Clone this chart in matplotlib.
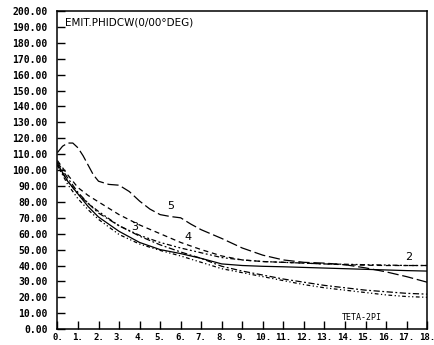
import matplotlib
matplotlib.use("Agg")
import matplotlib.pyplot as plt

# ---- data ----
x5 = [0, 0.25, 0.5, 0.75, 1, 1.25, 1.5, 1.75, 2, 2.5, 3, 3.5, 4, 4.5, 5, 5.5, 6, 6.5, 7, 8, 9, 10, 11, 12, 13, 14, 15, 16, 17, 18]
y5 = [111, 115, 117, 117, 114, 109, 103, 97, 93, 91, 90.5, 86.5, 80.5, 75.5, 72, 70.8, 70, 66, 62.5, 57, 51, 46.5, 43.5, 42, 41.5, 40.5, 38.5, 36, 33, 29.5]

xs = [0, 0.5, 1, 1.5, 2, 3, 4, 5, 6, 7, 8, 9, 10, 11, 12, 13, 14, 15, 16, 17, 18]
y4 = [106, 97, 89, 84, 80, 72, 65.5, 60, 54.5, 50, 46, 43.5, 42.5, 42, 41.5, 41, 40.5, 40.2, 40, 40, 40]
y2 = [103, 93, 85, 79, 74, 65, 59, 54.5, 51, 48, 45, 43.5, 42.5, 42, 41.5, 41, 40.8, 40.5, 40.3, 40, 40]
y1 = [104, 93, 85, 77, 70.5, 61.5, 54.5, 50, 47.5, 44.5, 41, 40, 39.5, 39.2, 38.8, 38.4, 38, 37.6, 37.2, 36.8, 36.5]
y3 = [105, 95, 86, 79, 73, 65, 58.5, 53, 48.5, 44.5, 39.5, 36.5, 34, 31.5, 29.5, 27.5, 26, 24.5, 23.5, 22.5, 22]
y6 = [103, 91, 82, 75, 69, 59.5, 53.5, 49.5, 46, 42, 38, 35.5, 33, 30.5, 28, 26, 24.5, 23, 21.5, 20.5, 20]

yticks = list(range(0, 201, 10))
xticks = list(range(0, 19))
ytick_labels = [f"{v:.2f}" for v in yticks]
xtick_labels = [f"{v}." for v in xticks]

title = "EMIT.PHIDCW(0/00°DEG)"
xname = "TETA-2PI"
curve_labels = [("5", 5.5, 74), ("4", 6.35, 55), ("3", 3.75, 61), ("2", 17.1, 42)]

# ---- figure ----
fig = plt.figure(figsize=(4.35, 3.45), dpi=100)
ax = fig.add_axes([0.132, 0.046, 0.850, 0.922])

lw = 0.9
ax.plot(x5, y5, color="black", lw=lw, dashes=(9, 3))
ax.plot(xs, y4, color="black", lw=lw, dashes=(4, 3))
ax.plot(xs, y2, color="black", lw=lw, dashes=(1.5, 2, 1.5, 2, 4, 2))
ax.plot(xs, y1, color="black", lw=lw, linestyle="-")
ax.plot(xs, y3, color="black", lw=lw, dashes=(5, 2, 1.5, 2))
ax.plot(xs, y6, color="black", lw=lw, dashes=(3, 2, 1, 2, 1, 2))

ax.set_xlim(0, 18)
ax.set_ylim(0, 200)

ax.set_yticks(yticks)
ax.set_yticklabels(ytick_labels)
ax.set_xticks(xticks)
ax.set_xticklabels(xtick_labels)

mono = "DejaVu Sans Mono"
ax.tick_params(axis="y", direction="in", length=6, width=1, pad=7, labelsize=7)
ax.tick_params(axis="x", direction="in", length=6, width=1, pad=3, labelsize=6.5)
for lab in ax.get_yticklabels() + ax.get_xticklabels():
    lab.set_fontfamily(mono)
    lab.set_fontweight("bold")

for s in ax.spines.values():
    s.set_linewidth(1.1)
    s.set_color("black")

ax.text(0.35, 192.5, title, fontsize=7.5, family="DejaVu Sans", ha="left", va="center")
ax.text(14.8, 7, xname, fontsize=6, family=mono, ha="center", va="center")
for t, xx, yy in curve_labels:
    ax.text(xx, yy, t, fontsize=8, ha="center", va="bottom")

fig.savefig("out.png", dpi=100)
